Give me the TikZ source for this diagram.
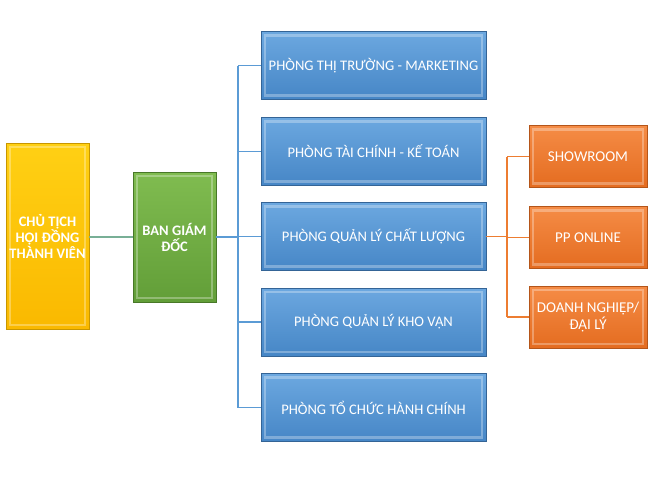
\documentclass[tikz,border=0pt]{standalone}
\usepackage{fontspec}
\setmainfont{Carlito}
\usetikzlibrary{calc}
\definecolor{bluetop}{RGB}{108,168,224}
\definecolor{bluebot}{RGB}{70,134,198}
\definecolor{blueedge}{RGB}{52,100,150}
\definecolor{bluelink}{RGB}{91,155,213}
\definecolor{ortop}{RGB}{245,140,70}
\definecolor{orbot}{RGB}{228,108,32}
\definecolor{oredge}{RGB}{180,85,25}
\definecolor{orlink}{RGB}{237,125,49}
\definecolor{grtop}{RGB}{128,188,80}
\definecolor{grbot}{RGB}{98,158,56}
\definecolor{gredge}{RGB}{72,120,40}
\definecolor{yetop}{RGB}{255,208,20}
\definecolor{yebot}{RGB}{250,185,0}
\definecolor{yeedge}{RGB}{200,150,0}
\definecolor{gylink}{RGB}{120,175,150}
\tikzset{
  bevel/.style={path picture={
    \draw[white,opacity=0.3,line width=2.5pt]
      ([shift={(4pt,-4pt)}]path picture bounding box.north west) rectangle
      ([shift={(-4pt,4pt)}]path picture bounding box.south east);}},
  basebox/.style={rectangle, inner sep=1pt, align=center, text=white,
    font=\fontsize{14.6}{16}\selectfont, line width=0.8pt, bevel},
  bluebox/.style={basebox, draw=blueedge, top color=bluetop, bottom color=bluebot,
    minimum width=225pt, minimum height=68pt},
  orbox/.style={basebox, draw=oredge, top color=ortop, bottom color=orbot,
    minimum width=118pt, minimum height=62pt, font=\fontsize{15}{16.5}\selectfont},
  link/.style={line width=1.2pt},
}
\begin{document}
\begin{tikzpicture}[x=1pt,y=-1pt]
\fill[white] (0,0) rectangle (652,480);
\useasboundingbox (0,0) rectangle (652,480);

\node[basebox, draw=yeedge, top color=yetop, bottom color=yebot,
  minimum width=83pt, minimum height=186pt, font=\fontsize{14.5}{16}\selectfont\bfseries]
  (chair) at (47.5,236) {CHỦ TỊCH\\HỘI ĐỒNG\\THÀNH VIÊN};
\node[basebox, draw=gredge, top color=grtop, bottom color=grbot,
  minimum width=83pt, minimum height=130pt, font=\fontsize{14.5}{16}\selectfont\bfseries]
  (board) at (174.5,237) {BAN GIÁM\\ĐỐC};

\node[bluebox] (b1) at (373.5,65.5) {PHÒNG THỊ TRƯỜNG - MARKETING};
\node[bluebox] (b2) at (373.5,151.5) {PHÒNG TÀI CHÍNH - KẾ TOÁN};
\node[bluebox] (b3) at (373.5,236.5) {PHÒNG QUẢN LÝ CHẤT LƯỢNG};
\node[bluebox] (b4) at (373.5,322) {PHÒNG QUẢN LÝ KHO VẬN};
\node[bluebox] (b5) at (373.5,407.5) {PHÒNG TỔ CHỨC HÀNH CHÍNH};

\node[orbox] (o1) at (588,156.5) {SHOWROOM};
\node[orbox] (o2) at (588,237.5) {PP ONLINE};
\node[orbox] (o3) at (588,317) {DOANH NGHIỆP/\\ĐẠI LÝ};

\coordinate (bus) at (238,237);
\coordinate (obus) at (507,237);

\draw[link, draw=gylink] (chair.east |- board.west) -- (board.west);
\draw[link, draw=bluelink] (board.east) -- (board.east -| bus);
\draw[link, draw=bluelink] (bus |- b1.west) -- (bus |- b5.west);
\foreach \b in {b1,b2,b3,b4,b5}
  \draw[link, draw=bluelink] (bus |- \b.west) -- (\b.west);

\draw[link, draw=orlink] (b3.east) -- (b3.east -| obus);
\draw[link, draw=orlink] (obus |- o1.west) -- (obus |- o3.west);
\foreach \o in {o1,o2,o3}
  \draw[link, draw=orlink] (obus |- \o.west) -- (\o.west);
\end{tikzpicture}
\end{document}
